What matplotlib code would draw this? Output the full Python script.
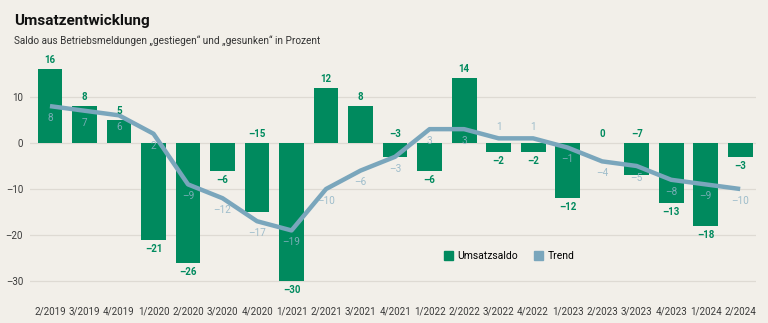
import numpy as np
import matplotlib.pyplot as plt
from matplotlib.patches import Patch

quarters = ['2/2019', '3/2019', '4/2019', '1/2020', '2/2020', '3/2020', '4/2020',
            '1/2021', '2/2021', '3/2021', '4/2021', '1/2022', '2/2022', '3/2022',
            '4/2022', '1/2023', '2/2023', '3/2023', '4/2023', '1/2024', '2/2024']
umsatzsaldo = [16, 8, 5, -21, -26, -6, -15, -30, 12, 8, -3, -6, 14, -2, -2, -12, 0, -7, -13, -18, -3]
trend = [8, 7, 6, 2, -9, -12, -17, -19, -10, -6, -3, 3, 3, 1, 1, -1, -4, -5, -8, -9, -10]
# labels placed on the other side in the reference
trend_above = ['3/2022', '4/2022']
saldo_top = ['4/2020', '4/2021', '3/2023']

BG = '#f2efe9'
GREEN = '#008a5e'
BLUE = '#7aa6bc'
GRID = '#dedad3'

plt.rcParams['font.family'] = ['Roboto', 'DejaVu Sans']


def fmt(v):
    return f'{v}'.replace('-', '\u2013')


fig = plt.figure(figsize=(7.68, 3.23), dpi=100, facecolor=BG)
ax = fig.add_axes([0.039, 0.087, 0.945, 0.727], facecolor=BG)

x = np.arange(len(quarters))
ax.bar(x, umsatzsaldo, width=0.72, color=GREEN, zorder=2)
ax.plot(x, trend, color=BLUE, lw=3.2, solid_capstyle='butt', zorder=3)

for q, xi, v in zip(quarters, x, umsatzsaldo):
    if v >= 0 or q in saldo_top:
        ax.annotate(fmt(v), (xi, max(v, 0)), xytext=(0, 6.5), textcoords='offset points',
                    ha='center', va='center', fontsize=7, fontweight='bold', color=GREEN)
    else:
        ax.annotate(fmt(v), (xi, v), xytext=(0, -6.5), textcoords='offset points',
                    ha='center', va='center', fontsize=7, fontweight='bold', color=GREEN)

for q, xi, v in zip(quarters, x, trend):
    dy = 8 if q in trend_above else -8.5
    ax.annotate(fmt(v), (xi, v), xytext=(0, dy), textcoords='offset points',
                ha='center', va='center', fontsize=7.2, color='#8fb4c6', alpha=0.85, zorder=4)

ax.set_xlim(-0.58, 20.45)
ax.set_ylim(-33, 18)
ax.set_yticks([-30, -20, -10, 0, 10])
ax.set_yticklabels([fmt(t) for t in [-30, -20, -10, 0, 10]], fontsize=7, color='#3a3a3a')
ax.set_xticks(x)
ax.set_xticklabels(quarters, fontsize=7, color='#3a3a3a')
ax.tick_params(axis='x', length=0, pad=8)
ax.tick_params(axis='y', length=0, pad=5)
ax.grid(axis='y', color=GRID, lw=0.9, zorder=0)
for s in ax.spines.values():
    s.set_visible(False)

handles = [Patch(color=GREEN, label='Umsatzsaldo'), Patch(color=BLUE, label='Trend')]
ax.legend(handles=handles, loc='center', bbox_to_anchor=(0.66, 0.165), ncol=2,
          frameon=False, fontsize=7.5, handlelength=0.9, handleheight=0.9,
          handletextpad=0.4, columnspacing=1.5)

fig.text(0.018, 0.935, 'Umsatzentwicklung', fontsize=11, fontweight='bold',
         color='#111111', va='center')
fig.text(0.018, 0.873, 'Saldo aus Betriebsmeldungen \u201egestiegen\u201c und \u201egesunken\u201c in Prozent',
         fontsize=7.2, color='#333333', va='center')

fig.savefig('out.png', dpi=100, facecolor=BG)
